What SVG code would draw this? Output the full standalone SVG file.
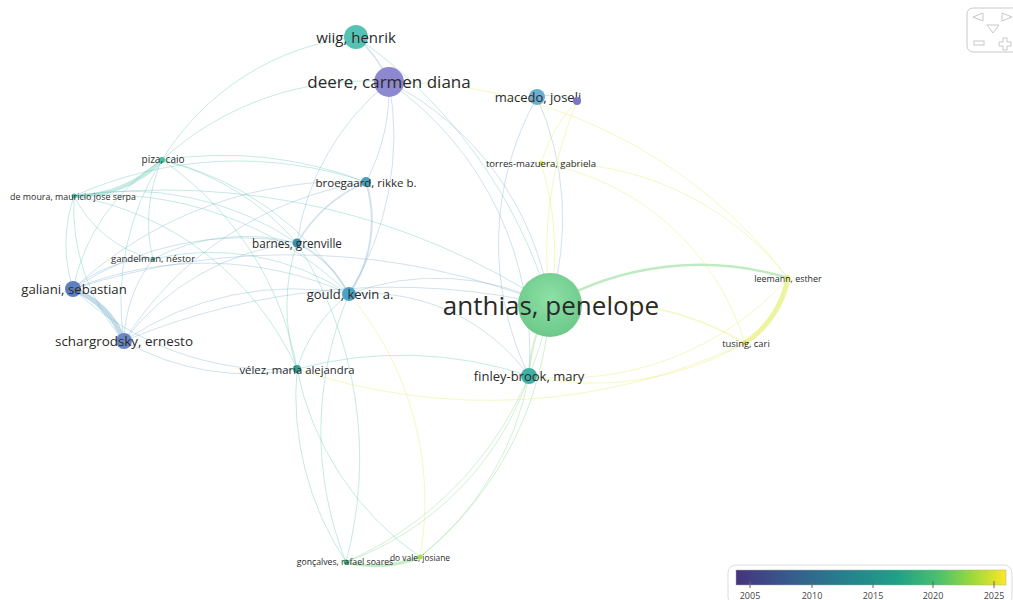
<svg xmlns="http://www.w3.org/2000/svg" width="1013" height="600" viewBox="0 0 1013 600">
<defs>
<style>
text{font-family:"Open Sans","Liberation Sans",sans-serif;fill:#2a2a2a;text-anchor:middle;dominant-baseline:central}
.e{fill:none;stroke-linecap:round}
.t{stroke:#5cc4b2;stroke-opacity:.35;stroke-width:1}
.b{stroke:#7aaccc;stroke-opacity:.35;stroke-width:1}
.g{stroke:#8cdb8f;stroke-opacity:.4;stroke-width:1}
.y{stroke:#e3ee6a;stroke-opacity:.4;stroke-width:1}
.tick{stroke:#666;stroke-width:1}
.leg{font-size:9px;fill:#444}
.ctl{fill:none;stroke:#c8c8c8;stroke-width:1}
</style>
<linearGradient id="vir" x1="0" x2="1" y1="0" y2="0">
<stop offset="0" stop-color="#46337e"/>
<stop offset="0.2" stop-color="#365c8d"/>
<stop offset="0.4" stop-color="#277f8e"/>
<stop offset="0.6" stop-color="#1fa187"/>
<stop offset="0.75" stop-color="#4ac16d"/>
<stop offset="0.88" stop-color="#a0da39"/>
<stop offset="1" stop-color="#fde725"/>
</linearGradient>
<radialGradient id="ga" cx="0.5" cy="0.4" r="0.6">
<stop offset="0" stop-color="#8ee0a6"/>
<stop offset="1" stop-color="#6cc98a"/>
</radialGradient>
</defs>
<rect width="1013" height="600" fill="#fff"/>
<g id="connectors">
<path class="e t" style="stroke-width:4" d="M162 160 A120 120 0 0 1 74 196"/>
<path class="e t" d="M162 160 A200 200 0 0 0 73 289"/>
<path class="e t" d="M162 160 A260 260 0 0 0 124 341"/>
<path class="e t" d="M162 160 A150 150 0 0 0 153 259"/>
<path class="e t" d="M162 160 A260 260 0 0 1 297 243"/>
<path class="e t" d="M162 160 A400 400 0 0 1 366 182"/>
<path class="e t" d="M162 160 A300 300 0 0 1 349 294"/>
<path class="e t" d="M162 160 A320 320 0 0 1 297 369"/>
<path class="e t" d="M162 160 A300 300 0 0 1 389 82"/>
<path class="e t" d="M162 160 A260 260 0 0 1 356 37"/>
<path class="e t" d="M74 196 A150 150 0 0 0 73 289"/>
<path class="e t" d="M74 196 A200 200 0 0 0 124 341"/>
<path class="e t" d="M74 196 A120 120 0 0 0 153 259"/>
<path class="e t" d="M74 196 A300 300 0 0 1 297 243"/>
<path class="e t" d="M74 196 A400 400 0 0 1 366 182"/>
<path class="e t" d="M74 196 A350 350 0 0 1 349 294"/>
<path class="e t" d="M74 196 A300 300 0 0 1 297 369"/>
<path class="e b" style="stroke-width:5;stroke-opacity:.45" d="M73 289 A90 90 0 0 1 124 341"/>
<path class="e b" d="M73 289 A120 120 0 0 1 153 259"/>
<path class="e b" d="M73 289 A300 300 0 0 1 297 243"/>
<path class="e b" d="M73 289 A350 350 0 0 1 349 294"/>
<path class="e b" d="M73 289 A400 400 0 0 1 366 182"/>
<path class="e b" d="M73 289 A300 300 0 0 0 297 369"/>
<path class="e b" d="M124 341 A140 140 0 0 1 153 259"/>
<path class="e b" d="M124 341 A250 250 0 0 1 297 243"/>
<path class="e b" d="M124 341 A300 300 0 0 1 349 294"/>
<path class="e b" d="M124 341 A350 350 0 0 1 366 182"/>
<path class="e b" d="M124 341 A250 250 0 0 0 297 369"/>
<path class="e t" d="M153 259 A200 200 0 0 1 297 243"/>
<path class="e t" d="M153 259 A250 250 0 0 1 349 294"/>
<path class="e b" style="stroke-width:1.5" d="M297 243 A150 150 0 0 1 366 182"/>
<path class="e b" style="stroke-width:1.5" d="M297 243 A120 120 0 0 1 349 294"/>
<path class="e t" d="M297 243 A200 200 0 0 0 297 369"/>
<path class="e b" d="M297 243 A250 250 0 0 1 389 82"/>
<path class="e b" style="stroke-width:2" d="M366 182 A130 130 0 0 1 349 294"/>
<path class="e b" d="M366 182 A200 200 0 0 0 389 82"/>
<path class="e b" d="M349 294 A300 300 0 0 0 389 82"/>
<path class="e b" d="M349 294 A250 250 0 0 1 550 305"/>
<path class="e b" d="M349 294 A200 200 0 0 1 529 376"/>
<path class="e t" d="M349 294 A150 150 0 0 0 297 369"/>
<path class="e b" style="stroke-width:1.5" d="M389 82 A120 120 0 0 0 356 37"/>
<path class="e b" d="M389 82 A300 300 0 0 1 550 305"/>
<path class="e b" d="M389 82 A330 330 0 0 1 529 376"/>
<path class="e t" d="M356 37 A500 500 0 0 1 550 305"/>
<path class="e g" style="stroke-width:2" d="M550 305 A150 150 0 0 0 529 376"/>
<path class="e g" style="stroke-width:2.5;stroke-opacity:.55" d="M550 305 A300 300 0 0 1 788 278"/>
<path class="e y" style="stroke-width:1.5" d="M550 305 A300 300 0 0 1 745 343"/>
<path class="e y" d="M550 305 A300 300 0 0 0 541 163"/>
<path class="e b" d="M550 305 A300 300 0 0 0 537 97"/>
<path class="e g" d="M550 305 A350 350 0 0 1 346 562"/>
<path class="e g" d="M550 305 A350 350 0 0 1 420 557"/>
<path class="e y" style="stroke-width:5;stroke-opacity:.65" d="M788 278 A100 100 0 0 1 745 343"/>
<path class="e y" d="M541 163 A300 300 0 0 1 788 278"/>
<path class="e y" d="M541 163 A260 260 0 0 1 745 343"/>
<path class="e b" d="M537 97 A60 60 0 0 1 577 101"/>
<path class="e b" d="M537 97 A300 300 0 0 0 529 376"/>
<path class="e y" d="M577 101 A150 150 0 0 0 541 163"/>
<path class="e y" d="M577 101 A400 400 0 0 0 550 305"/>
<path class="e g" d="M529 376 A300 300 0 0 1 346 562"/>
<path class="e g" d="M529 376 A300 300 0 0 1 420 557"/>
<path class="e t" d="M297 369 A300 300 0 0 0 346 562"/>
<path class="e t" d="M297 369 A300 300 0 0 0 420 557"/>
<path class="e g" style="stroke-width:3;stroke-opacity:.5" d="M346 562 A120 120 0 0 0 420 557"/>
<path class="e t" d="M349 294 A350 350 0 0 0 346 562"/>
<path class="e y" d="M349 294 A320 320 0 0 1 420 557"/>
<path class="e t" d="M297 243 A400 400 0 0 1 346 562"/>
<path class="e y" d="M745 343 A300 300 0 0 1 529 376"/>
<path class="e y" d="M788 278 A300 300 0 0 1 529 376"/>
<path class="e t" d="M297 369 A400 400 0 0 1 529 376"/>
<path class="e y" d="M297 369 A600 600 0 0 0 745 343"/>
<path class="e b" d="M124 341 A700 700 0 0 1 550 305"/>
<path class="e b" d="M73 289 A700 700 0 0 1 550 305"/>
<path class="e t" d="M74 196 A700 700 0 0 1 550 305"/>
<path class="e y" d="M389 82 A500 500 0 0 1 788 278"/>
</g>
<g id="n-anthias"><circle cx="550" cy="305" r="32" fill="url(#ga)"/><text x="551" y="305" font-size="26">anthias, penelope</text></g>
<g id="n-wiig"><circle cx="356" cy="37" r="12" fill="#56c2b3"/><text x="356" y="37" font-size="15">wiig, henrik</text></g>
<g id="n-deere"><circle cx="389" cy="82" r="15" fill="#8d88cf"/><text x="389" y="81" font-size="17">deere, carmen diana</text></g>
<g id="n-macedo"><circle cx="537" cy="97" r="8" fill="#6aaed0"/><text x="538" y="97" font-size="13">macedo, joseli</text></g>
<g id="n-purple"><circle cx="577" cy="101" r="4" fill="#7d76c4"/></g>
<g id="n-torres"><circle cx="541" cy="163" r="2.5" fill="#e4ee5e"/><text x="541" y="163" font-size="9.6">torres-mazuera, gabriela</text></g>
<g id="n-piza"><circle cx="162" cy="160" r="3" fill="#3cc5a5"/><text x="163" y="159" font-size="10">piza, caio</text></g>
<g id="n-demoura"><circle cx="74" cy="196" r="2.5" fill="#4ec0a8"/><text x="73" y="196" font-size="8.9">de moura, mauricio jose serpa</text></g>
<g id="n-broegaard"><circle cx="366" cy="182" r="5" fill="#4a9fbe"/><text x="366" y="182" font-size="11.5">broegaard, rikke b.</text></g>
<g id="n-barnes"><circle cx="297" cy="243" r="4.5" fill="#3f8fa8"/><text x="297" y="243" font-size="11.7">barnes, grenville</text></g>
<g id="n-gandelman"><circle cx="153" cy="259" r="2" fill="#4cb7a6"/><text x="153" y="258" font-size="9.6">gandelman, néstor</text></g>
<g id="n-galiani"><circle cx="73" cy="289" r="8" fill="#5d7fbf"/><text x="74" y="289" font-size="13.2">galiani, sebastian</text></g>
<g id="n-gould"><circle cx="349" cy="294" r="7" fill="#4aa3c4"/><text x="350" y="294" font-size="13">gould, kevin a.</text></g>
<g id="n-leemann"><circle cx="788" cy="278" r="2.5" fill="#e3ee5a"/><text x="788" y="278" font-size="8.9">leemann, esther</text></g>
<g id="n-schargrodsky"><circle cx="124" cy="341" r="8" fill="#6986c6"/><text x="124" y="341" font-size="13.4">schargrodsky, ernesto</text></g>
<g id="n-tusing"><circle cx="745" cy="343" r="2.5" fill="#dbe85a"/><text x="746" y="343" font-size="9.4">tusing, cari</text></g>
<g id="n-velez"><circle cx="297" cy="369" r="4" fill="#34a394"/><text x="297" y="369" font-size="11.3">vélez, maria alejandra</text></g>
<g id="n-finley"><circle cx="529" cy="376" r="8" fill="#3fb1a4"/><text x="529" y="376" font-size="13">finley-brook, mary</text></g>
<g id="n-goncalves"><circle cx="346" cy="562" r="2.5" fill="#3fb07a"/><text x="345" y="562" font-size="8.7">gonçalves, rafael soares</text></g>
<g id="n-dovale"><circle cx="420" cy="557" r="2.5" fill="#a7de4a"/><text x="420" y="557" font-size="8.4">do vale, josiane</text></g>
<g id="legend">
<rect x="728" y="565" width="284" height="40" rx="8" fill="#fff" stroke="#ddd"/>
<rect x="736" y="570" width="270" height="15" fill="url(#vir)" stroke="#aaa" stroke-width="0.5"/>
<line class="tick" x1="750" y1="581" x2="750" y2="588"/>
<line class="tick" x1="812" y1="581" x2="812" y2="588"/>
<line class="tick" x1="873" y1="581" x2="873" y2="588"/>
<line class="tick" x1="933" y1="581" x2="933" y2="588"/>
<line class="tick" x1="994" y1="581" x2="994" y2="588"/>
<text class="leg" x="750" y="595">2005</text>
<text class="leg" x="812" y="595">2010</text>
<text class="leg" x="873" y="595">2015</text>
<text class="leg" x="933" y="595">2020</text>
<text class="leg" x="994" y="595">2025</text>
</g>
<g id="controls">
<rect class="ctl" x="967" y="8" width="60" height="44" rx="6"/>
<path class="ctl" d="M983 13 L973 17 L983 21 Z"/>
<path class="ctl" d="M1002 13 L1012 17 L1002 21 Z"/>
<path class="ctl" d="M987 25 L999 25 L993 33 Z"/>
<rect class="ctl" x="974" y="41" width="10" height="4"/>
<path class="ctl" d="M1003 38 h4 v4 h4 v4 h-4 v4 h-4 v-4 h-4 v-4 h4 Z"/>
</g>
</svg>
